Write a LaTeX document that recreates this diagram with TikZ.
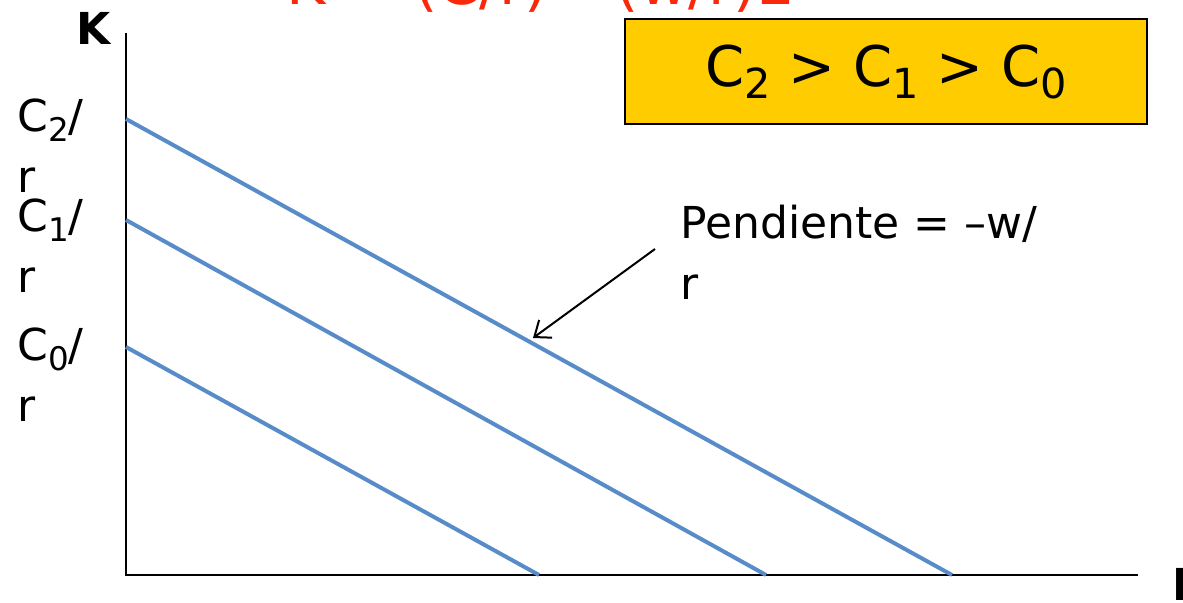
\documentclass[tikz,border=0pt]{standalone}
\usepackage{fontspec}
\setmainfont{DejaVu Sans}
\usetikzlibrary{arrows.meta, positioning}
\definecolor{myblue}{RGB}{88,140,200}
\definecolor{myyellow}{RGB}{255,204,0}
\definecolor{myred}{RGB}{250,40,10}
\newcommand{\subdig}[1]{\raisebox{-0.22em}{\scalebox{0.74}{#1}}}
\tikzset{
  axis/.style={line width=1pt, color=black},
  budget/.style={line width=2pt, color=myblue},
  lbl/.style={inner sep=0pt, align=left, anchor=base west,
    font=\fontsize{22}{30.5}\selectfont},
  axlbl/.style={inner sep=0pt, anchor=base west,
    font=\fontsize{22}{30.5}\selectfont\bfseries},
  orderbox/.style={rectangle, draw=black, fill=myyellow, line width=1pt,
    minimum width=261pt, minimum height=52.5pt,
    font=\fontsize{28}{32}\selectfont},
  arrow/.style={-{Straight Barb[length=7pt, width=11pt]}, line width=1pt, color=black}
}

\begin{document}
\begin{tikzpicture}[x=0.5pt, y=-0.5pt]
  \useasboundingbox (0,0) rectangle (1183,603);
  % title, cut off at the top of the slide
  \node[inner sep=0pt, anchor=base west, text=myred,
    font=\fontsize{30}{32}\selectfont] (eqn) at (286,5)
    {K = (C/r) -- (w/r)L};

  % axes
  \coordinate (O) at (126,575);
  \coordinate (Ktop) at (126,33);
  \coordinate (Lend) at (1138,575);
  \draw[axis] (Ktop) -- (O) -- (Lend);
  \node[axlbl] (K) at (76,45) {K};
  \node[axlbl] (L) at (1172,601) {L};

  % isocost lines
  \coordinate (c2k) at (126,119);
  \coordinate (c2l) at (952,575);
  \coordinate (c1k) at (126,220);
  \coordinate (c1l) at (766,575);
  \coordinate (c0k) at (126,347);
  \coordinate (c0l) at (539,575);
  \draw[budget] (c2k) -- (c2l);
  \draw[budget] (c1k) -- (c1l);
  \draw[budget] (c0k) -- (c0l);
  \node[lbl] (lc2) at (17,193) {C\subdig{2}/\\r};
  \node[lbl] (lc1) at (17,293) {C\subdig{1}/\\r};
  \node[lbl] (lc0) at (17,422) {C\subdig{0}/\\r};

  % slope
  \node[lbl] (slope) at (680,300) {Pendiente = --w/\\r};
  \coordinate (ptail) at (655,249);
  \coordinate (phead) at (533,338);
  \draw[arrow] (ptail) -- (phead);

  \node[orderbox] (order) at (886,72)
    {C\subdig{2} > C\subdig{1} > C\subdig{0}};
\end{tikzpicture}
\end{document}
